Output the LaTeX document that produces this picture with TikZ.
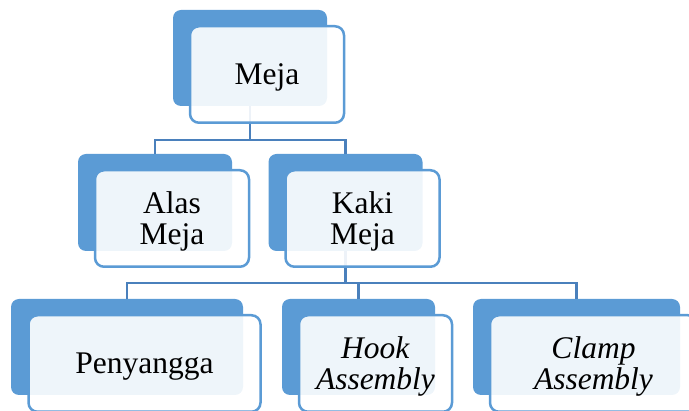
\documentclass[tikz,border=0pt]{standalone}
\usepackage{fontspec}
\setmainfont{Liberation Serif}
\definecolor{backblue}{HTML}{5B9BD5}
\definecolor{edgeblue}{HTML}{5B9BD5}
\definecolor{linkblue}{HTML}{4A80BC}
% label set a little below the box centre, keeping its nominal size
\newcommand\lowtext[1]{\raisebox{-4pt}[\height][\depth]{\begin{tabular}{@{}c@{}}#1\end{tabular}}}
\begin{document}
\begin{tikzpicture}[x=1pt,y=-1pt,
  backbox/.style={rectangle, rounded corners=8pt, fill=backblue, inner sep=0pt},
  frontbox/.style={rectangle, rounded corners=9pt, draw=edgeblue, line width=2.5pt,
    fill=white, fill opacity=0.9, text opacity=1, inner sep=0pt,
    font=\fontsize{31.5}{31}\selectfont},
  link/.style={draw=linkblue, line width=2.8pt}]
\useasboundingbox (0,0) rectangle (689,411);

% back (shadow) boxes
\node[backbox, minimum width=154pt, minimum height=96pt] (meja-b)  at (250,58) {};
\node[backbox, minimum width=154pt, minimum height=97pt] (alas-b)  at (155,202.5) {};
\node[backbox, minimum width=154pt, minimum height=97pt] (kaki-b)  at (345.5,202.5) {};
\node[backbox, minimum width=232pt, minimum height=96pt] (peny-b)  at (127,347) {};
\node[backbox, minimum width=153pt, minimum height=96pt] (hook-b)  at (358.5,347) {};
\node[backbox, minimum width=207pt, minimum height=96pt] (clamp-b) at (576.5,347) {};

% connectors
\coordinate (j1) at (250,140);
\coordinate (j2) at (345.5,283);
\draw[link] (meja-b.south) -- (j1) -| (alas-b.north);
\draw[link] (j1) -| (kaki-b.north);
\draw[link] (kaki-b.south) -- (j2) -| (peny-b.north);
\draw[link] (j2) -| (hook-b.north);
\draw[link] (j2) -| (clamp-b.north);

% front boxes with labels
\node[frontbox, minimum width=154pt, minimum height=96.5pt] (meja)  at (267,74.5) {\lowtext{Meja}};
\node[frontbox, minimum width=154pt, minimum height=96.5pt] (alas)  at (172,218.5) {\lowtext{Alas\\Meja}};
\node[frontbox, minimum width=154pt, minimum height=96.5pt] (kaki)  at (362.5,218.5) {\lowtext{Kaki\\Meja}};
\node[frontbox, minimum width=232pt, minimum height=96.5pt] (peny)  at (144.5,363.5) {\lowtext{Penyangga}};
\node[frontbox, minimum width=153pt, minimum height=96.5pt] (hook)  at (375.5,363.5) {\lowtext{\textit{Hook}\\\textit{Assembly}}};
\node[frontbox, minimum width=207pt, minimum height=96.5pt] (clamp) at (593.5,363.5) {\lowtext{\textit{Clamp}\\\textit{Assembly}}};
\end{tikzpicture}
\end{document}
